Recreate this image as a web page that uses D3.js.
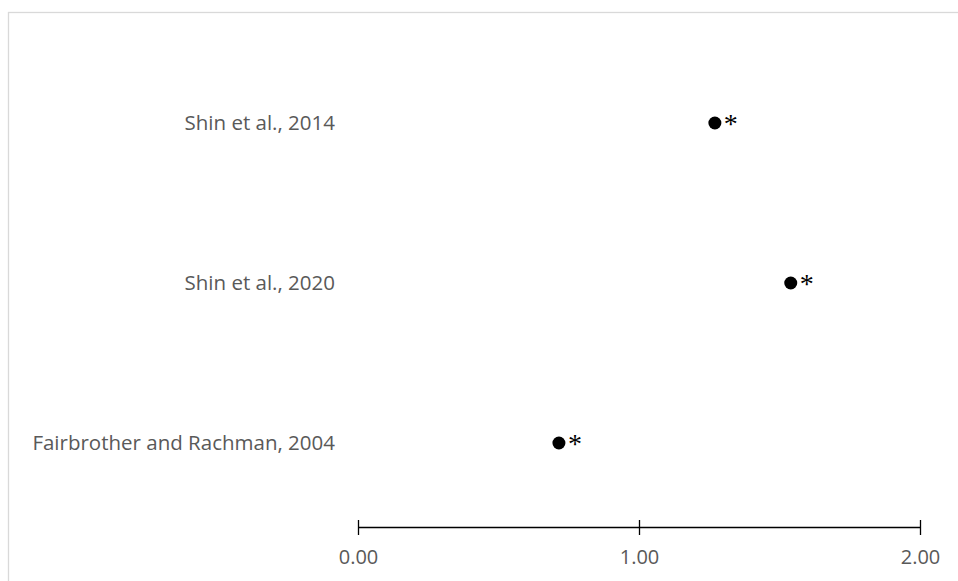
<!DOCTYPE html>
<html>
<head>
<meta charset="utf-8">
<script src="https://cdn.jsdelivr.net/npm/d3@7"></script>
<style>
  body { margin: 0; background: #fff; }
  svg { display: block; }
</style>
</head>
<body>
<svg id="chart"></svg>
<script>
// studies, top to bottom
const studies = ["Shin et al., 2014", "Shin et al., 2020", "Fairbrother and Rachman, 2004"];
const effects = [1.27, 1.54, 0.715];
const marks = ["*", "*", "*"];
const xTicks = [0, 1, 2];

const width = 958, height = 581;
const margin = { top: 43, right: 38, bottom: 58, left: 358 };

const svg = d3.select("#chart")
  .attr("width", width)
  .attr("height", height);

// outer chart frame (runs off the right and bottom edges)
svg.append("rect")
  .attr("x", 8.5)
  .attr("y", 12.5)
  .attr("width", 960)
  .attr("height", 620)
  .attr("fill", "none")
  .attr("stroke", "#d9d9d9")
  .attr("stroke-width", 1.3);

const x = d3.scaleLinear()
  .domain([0, 2])
  .range([margin.left, width - margin.right]);

const y = d3.scalePoint()
  .domain(studies)
  .range([margin.top, height - margin.bottom])
  .padding(0.5);

const axisY = 527;
const font = "'Open Sans', Lato, sans-serif";

const xAxis = svg.append("g")
  .attr("transform", "translate(0," + axisY + ")")
  .call(d3.axisBottom(x)
    .tickValues(xTicks)
    .tickFormat(d3.format(".2f"))
    .tickSizeInner(8)
    .tickSizeOuter(0)
    .tickPadding(15));

xAxis.select(".domain")
  .attr("stroke", "#000")
  .attr("stroke-width", 1.3);
xAxis.selectAll(".tick line")
  .attr("y1", -7)
  .attr("y2", 8)
  .attr("stroke", "#000")
  .attr("stroke-width", 1.3);
xAxis.selectAll(".tick text")
  .attr("fill", "#595959")
  .style("font-family", font)
  .style("font-size", "20px");

// study labels
svg.append("g")
  .selectAll("text")
  .data(studies)
  .enter().append("text")
  .attr("x", 335)
  .attr("y", d => y(d))
  .attr("dy", "0.35em")
  .attr("text-anchor", "end")
  .attr("fill", "#595959")
  .style("font-family", font)
  .style("font-size", "20.5px")
  .text(d => d);

const pts = studies.map((s, i) => ({ study: s, value: effects[i], mark: marks[i] }));

svg.append("g")
  .selectAll("circle")
  .data(pts)
  .enter().append("circle")
  .attr("cx", d => x(d.value))
  .attr("cy", d => y(d.study))
  .attr("r", 6.5)
  .attr("fill", "#000");

svg.append("g")
  .selectAll("text")
  .data(pts)
  .enter().append("text")
  .attr("x", d => x(d.value) + 9)
  .attr("y", d => y(d.study) + 10)
  .attr("fill", "#000")
  .style("font-family", "'Liberation Serif', serif")
  .style("font-size", "28px")
  .text(d => d.mark);
</script>
</body>
</html>
